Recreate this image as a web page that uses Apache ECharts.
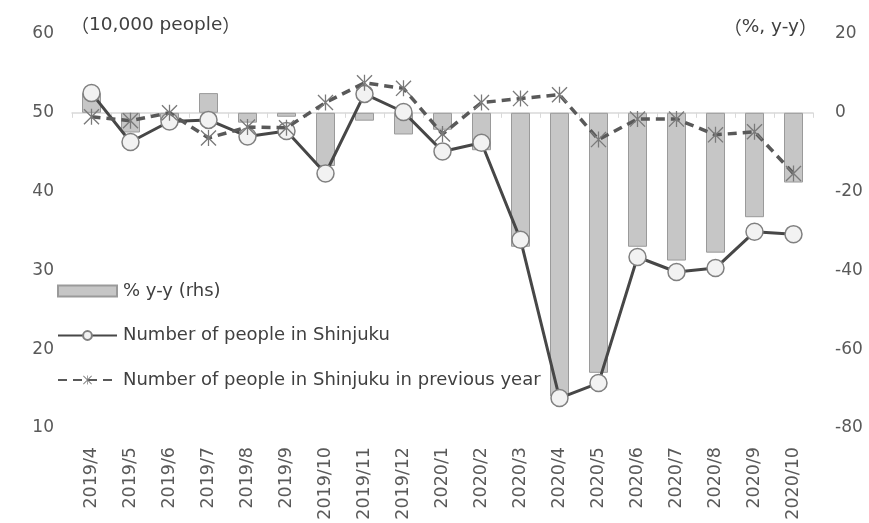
<!DOCTYPE html>
<html>
<head>
<meta charset="utf-8">
<script src="https://cdn.jsdelivr.net/npm/echarts@6/dist/echarts.min.js"></script>
<style>
  html, body { margin: 0; padding: 0; background: #ffffff; }
  #chart { width: 869px; height: 523px; }
</style>
</head>
<body>
<div id="chart"></div>
<script>
// Months on the category axis
const months = [
  '2019/4', '2019/5', '2019/6', '2019/7', '2019/8', '2019/9', '2019/10',
  '2019/11', '2019/12', '2020/1', '2020/2', '2020/3', '2020/4', '2020/5',
  '2020/6', '2020/7', '2020/8', '2020/9', '2020/10'
];

// Year-on-year change, % (right axis)
const yoyPct = [
  5, -5, -2, 5, -2.5, -1, -13.5, -2, -5.5, -4.3, -9.5, -34,
  -72, -66, -34, -37.5, -35.5, -26.5, -17.7
];

// People in Shinjuku, 10,000 people (left axis)
const shinjuku = [
  52.5, 46.3, 48.9, 49.1, 47.0, 47.7, 42.3, 52.4, 50.1, 45.1, 46.2, 33.9,
  13.8, 15.7, 31.7, 29.8, 30.3, 34.9, 34.6
];

// Same month one year earlier, 10,000 people (left axis)
const shinjukuPrevYear = [
  49.5, 49.0, 50.0, 46.8, 48.2, 48.1, 51.3, 53.8, 53.1, 47.3, 51.3, 51.8,
  52.3, 46.6, 49.2, 49.2, 47.2, 47.6, 42.3
];

// Left / right axis tick settings
const leftAxis = { min: 10, max: 60, interval: 10 };
const rightAxis = { min: -80, max: 20, interval: 20 };

const seriesNames = [
  '% y-y (rhs)',
  'Number of people in Shinjuku',
  'Number of people in Shinjuku in previous year'
];

// Asterisk-style marker built from three thin bars
const starPath = 'path://M9.2,0L10.8,0L10.8,20L9.2,20Z' +
  'M0,1.2L1.2,0L20,18.8L18.8,20Z' +
  'M18.8,0L20,1.2L1.2,20L0,18.8Z';

const font = '"DejaVu Sans", "Noto Sans CJK JP", sans-serif';
const cjkFont = '"Noto Sans CJK JP", sans-serif';
const textGray = '#595959';

// Unit captions with full-width brackets
const unitRich = {
  p: { fontFamily: cjkFont, fontSize: 18, fill: '#404040' },
  t: { fontFamily: font, fontSize: 18.5, fill: '#404040' }
};

const chart = echarts.init(document.getElementById('chart'), null, { renderer: 'canvas' });

chart.setOption({
  animation: false,
  backgroundColor: '#ffffff',
  textStyle: { fontFamily: font },
  grid: { left: 72, right: 56, top: 34, bottom: 95, containLabel: false },
  legend: {
    orient: 'vertical',
    left: 57,
    top: 282,
    padding: 0,
    itemWidth: 59,
    itemHeight: 11,
    itemGap: 26.5,
    data: [
      { name: seriesNames[0], icon: 'rect' },
      { name: seriesNames[1] },
      { name: seriesNames[2] }
    ],
    textStyle: { fontFamily: font, fontSize: 18, color: '#404040', padding: [0, 0, 0, 1] }
  },
  graphic: [
    {
      type: 'text', left: 71, top: 16,
      style: { text: '{p|（}{t|10,000 people}{p|）}', rich: unitRich }
    },
    {
      type: 'text', right: 52, top: 18,
      style: { text: '{p|（}{t|%, y-y}{p|）}', rich: unitRich }
    }
  ],
  xAxis: {
    type: 'category',
    data: months,
    boundaryGap: true,
    axisLine: { show: true, lineStyle: { color: '#d9d9d9', width: 1.5 } },
    axisTick: { show: true, length: 5, inside: false, lineStyle: { color: '#d9d9d9' } },
    axisLabel: {
      rotate: 90, margin: 19, interval: 0,
      color: textGray, fontSize: 17.5, fontFamily: font
    },
    splitLine: { show: false }
  },
  yAxis: [
    {
      type: 'value',
      min: leftAxis.min, max: leftAxis.max, interval: leftAxis.interval,
      axisLine: { show: false },
      axisTick: { show: false },
      splitLine: { show: false },
      axisLabel: { color: textGray, fontSize: 17, margin: 18, fontFamily: font }
    },
    {
      type: 'value',
      position: 'right',
      min: rightAxis.min, max: rightAxis.max, interval: rightAxis.interval,
      axisLine: { show: false },
      axisTick: { show: false },
      splitLine: { show: false },
      axisLabel: { color: textGray, fontSize: 17, margin: 22, fontFamily: font }
    }
  ],
  series: [
    {
      name: seriesNames[0],
      type: 'bar',
      yAxisIndex: 1,
      data: yoyPct,
      barWidth: 19,
      itemStyle: { color: '#c6c6c6', borderColor: '#9a9a9a', borderWidth: 1 },
      z: 1
    },
    {
      name: seriesNames[1],
      type: 'line',
      yAxisIndex: 0,
      data: shinjuku,
      symbol: 'circle',
      symbolSize: 17,
      showAllSymbol: true,
      lineStyle: { color: '#474747', width: 3 },
      itemStyle: { color: '#f2f2f2', borderColor: '#808080', borderWidth: 1.5 },
      z: 3
    },
    {
      name: seriesNames[2],
      type: 'line',
      yAxisIndex: 0,
      data: shinjukuPrevYear,
      symbol: starPath,
      symbolSize: 16,
      showAllSymbol: true,
      lineStyle: { color: '#595959', width: 3.5, type: [9, 6] },
      itemStyle: { color: '#7a7a7a', borderWidth: 0 },
      z: 4
    }
  ]
});
</script>
</body>
</html>
